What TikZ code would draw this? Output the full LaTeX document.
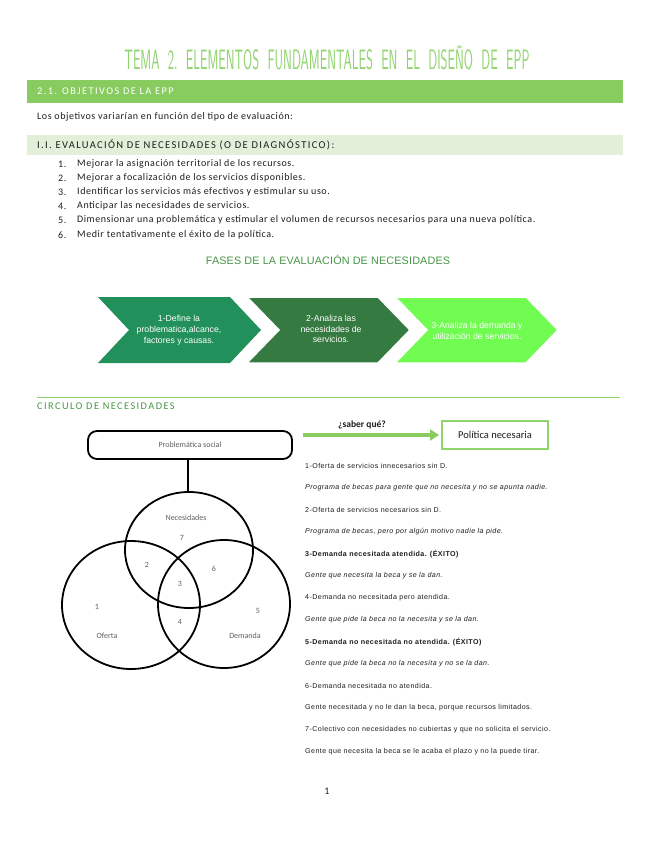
\documentclass[tikz,border=0pt]{standalone}
\usepackage{fontspec}
\usepackage{graphicx}
\setmainfont{Carlito}
\newfontfamily\bodyfont[LetterSpace=5.5]{Carlito}
\newfontfamily\headfont[LetterSpace=13]{Carlito}
\newfontfamily\capsfont[LetterSpace=14]{Carlito}
\newfontfamily\fasesfont[LetterSpace=1.5]{Liberation Sans}
\newfontfamily\chevfont{Liberation Sans}
\newfontfamily\notefont[LetterSpace=6]{Liberation Sans}
\usetikzlibrary{arrows.meta}
\definecolor{titlegreen}{RGB}{145,212,110}
\definecolor{bargreen}{RGB}{136,204,96}
\definecolor{lightbar}{RGB}{226,240,218}
\definecolor{headgreen}{RGB}{70,150,70}
\definecolor{chevA}{RGB}{34,144,90}
\definecolor{chevB}{RGB}{53,122,64}
\definecolor{chevC}{RGB}{112,252,80}
\definecolor{venntext}{RGB}{95,95,95}
\definecolor{txt}{RGB}{30,30,30}
\tikzset{
  body/.style={anchor=west,inner sep=0pt,font=\bodyfont\fontsize{10}{12}\selectfont,text=txt},
  chevtext/.style={align=center,text=white,inner sep=0pt,font=\chevfont\fontsize{8.7}{10.8}\selectfont},
  venn/.style={draw=black,line width=1.8pt},
  vlabel/.style={text=venntext,inner sep=0pt,font=\fontsize{8}{9}\selectfont},
  note/.style={anchor=west,inner sep=0pt,font=\notefont\fontsize{7.1}{8}\selectfont,text=txt},
  notei/.style={note,font=\notefont\itshape\fontsize{7.1}{8}\selectfont},
  noteb/.style={note,font=\notefont\bfseries\fontsize{7.1}{8}\selectfont},
}
\begin{document}
\begin{tikzpicture}[x=1pt,y=-1pt]
\useasboundingbox (0,0) rectangle (655,848);
\fill[white] (0,0) rectangle (655,848);
% title
\node[text=titlegreen,inner sep=0pt] (title) at (327,58)
  {\resizebox{405pt}{\height}{\sffamily\fontsize{28}{30}\selectfont TEMA\ \ 2.\ \ ELEMENTOS\ \ FUNDAMENTALES\ \ EN\ \ EL\ \ DISEÑO\ \ DE\ \ EPP}};
% section bar
\fill[bargreen] (27,80) rectangle (623,103);
\node[anchor=west,inner sep=0pt,text=white,font=\capsfont\fontsize{10.3}{12}\selectfont] (sec) at (37,91.5) {2.1. OBJETIVOS DE LA EPP};
\node[body] (intro) at (37,117) {Los objetivos variarían en función del tipo de evaluación:};
\fill[lightbar] (27,135) rectangle (623,155);
\node[anchor=west,inner sep=0pt,text=txt,font=\headfont\fontsize{10.5}{12}\selectfont] (sub) at (37,145) {I.I. EVALUACIÓN DE NECESIDADES (O DE DIAGNÓSTICO):};
% list
\foreach \n/\yy/\t in {1/164/{Mejorar la asignación territorial de los recursos.},
  2/178/{Mejorar a focalización de los servicios disponibles.},
  3/192/{Identificar los servicios más efectivos y estimular su uso.},
  4/206/{Anticipar las necesidades de servicios.},
  5/220/{Dimensionar una problemática y estimular el volumen de recursos necesarios para una nueva política.},
  6/235/{Medir tentativamente el éxito de la política.}}{
  \node[body] (num\n) at (58,\yy) {\n.};
  \node[body] (item\n) at (77,\yy) {\t};
}
\node[text=headgreen,inner sep=0pt,font=\fasesfont\fontsize{10.8}{12}\selectfont] (fases) at (328,260) {FASES DE LA EVALUACIÓN DE NECESIDADES};
% chevrons
\fill[chevA] (98,297) -- (230,297) -- (261,330) -- (230,363) -- (98,363) -- (129,330) -- cycle;
\fill[chevB] (247,297) -- (378,297) -- (410,330) -- (378,363) -- (247,363) -- (279,330) -- cycle;
\draw[white,line width=1.5pt] (247,297) -- (378,297) -- (410,330) -- (378,363) -- (247,363) -- (279,330) -- cycle;
\fill[chevC] (395,297) -- (526,297) -- (558,330) -- (526,363) -- (395,363) -- (427,330) -- cycle;
\draw[white,line width=1.5pt] (395,297) -- (526,297) -- (558,330) -- (526,363) -- (395,363) -- (427,330) -- cycle;
\node[chevtext] (c1) at (179,330) {1-Define la\\problematica,alcance,\\factores y causas.};
\node[chevtext] (c2) at (331,329) {2-Analiza las\\necesidades de\\servicios.};
\node[chevtext] (c3) at (477,331) {3-Analiza la demanda y\\utilización de servicios.};
% circulo header
\draw[draw=titlegreen,line width=0.6pt] (37,397) -- (620,397);
\node[anchor=west,inner sep=0pt,text=headgreen,font=\capsfont\fontsize{10.3}{12}\selectfont] (circ) at (37,406.5) {CIRCULO DE NECESIDADES};
% problematica box
\node[draw=black,line width=1.8pt,rounded corners=9pt,minimum width=204pt,minimum height=28pt,inner sep=0pt,text=venntext,font=\fontsize{8}{9}\selectfont] (prob) at (190,445) {Problemática social};
\coordinate (ntop) at (188,492);
\draw[black,line width=1.8pt] (prob.south -| ntop) -- (ntop);
% venn
\draw[venn] (189,550) ellipse [x radius=64, y radius=58];
\draw[venn] (131,605) ellipse [x radius=69, y radius=64];
\draw[venn] (224,604) ellipse [x radius=66, y radius=64];
\node[vlabel] (lnec) at (186,518) {Necesidades};
\node[vlabel] (l7) at (182,538) {7};
\node[vlabel] (l2) at (147,565) {2};
\node[vlabel] (l6) at (214,569) {6};
\node[vlabel] (l3) at (180,584) {3};
\node[vlabel] (l1) at (97,607) {1};
\node[vlabel] (l5) at (258,611) {5};
\node[vlabel] (l4) at (180,622) {4};
\node[vlabel] (lof) at (107,636) {Oferta};
\node[vlabel] (ldem) at (245,636) {Demanda};
% arrow
\node[draw=titlegreen,line width=1.3pt,minimum width=106pt,minimum height=28pt,inner sep=0pt,font=\fontsize{10.5}{12}\selectfont,text=txt] (pol) at (495,435) {Política necesaria};
\coordinate (astart) at (303,435);
\coordinate (aend) at (439,435);
\draw[bargreen,line width=3.5pt,-{Triangle[length=9pt,width=11pt]}] (astart) -- (aend);
\node[inner sep=0pt,font=\bfseries\fontsize{9.5}{10}\selectfont,text=txt] (saber) at (362,425) {¿saber qué?};
% notes
\node[note] (n1) at (305,466) {1-Oferta de servicios innecesarios sin D.};
\node[notei] (n2) at (305,488) {Programa de becas para gente que no necesita y no se apunta nadie.};
\node[note] (n3) at (305,510) {2-Oferta de servicios necesarios sin D.};
\node[notei] (n4) at (305,532) {Programa de becas, pero por algún motivo nadie la pide.};
\node[noteb] (n5) at (305,554) {3-Demanda necesitada atendida. (ÉXITO)};
\node[notei] (n6) at (305,576) {Gente que necesita la beca y se la dan.};
\node[note] (n7) at (305,598) {4-Demanda no necesitada pero atendida.};
\node[notei] (n8) at (305,620) {Gente que pide la beca no la necesita y se la dan.};
\node[noteb] (n9) at (305,642) {5-Demanda no necesitada no atendida. (ÉXITO)};
\node[notei] (n10) at (305,664) {Gente que pide la beca no la necesita y no se la dan.};
\node[note] (n11) at (305,686) {6-Demanda necesitada no atendida.};
\node[note] (n12) at (305,708) {Gente necesitada y no le dan la beca, porque recursos limitados.};
\node[note] (n13) at (305,730) {7-Colectivo con necesidades no cubiertas y que no solicita el servicio.};
\node[note] (n14) at (305,752) {Gente que necesita la beca se le acaba el plazo y no la puede tirar.};
% page number
\node[inner sep=0pt,font=\fontsize{10}{12}\selectfont,text=txt] (page) at (327,791) {1};
\end{tikzpicture}
\end{document}
